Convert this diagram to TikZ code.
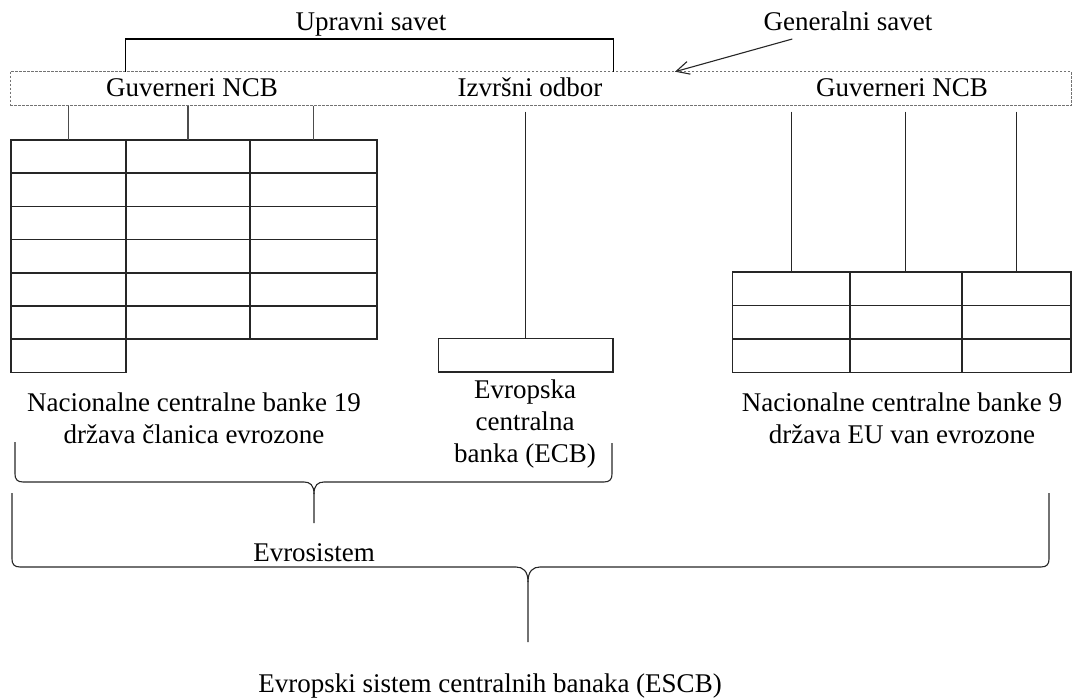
\documentclass[tikz,border=0pt]{standalone}
\usepackage{fontspec}
\setmainfont{Liberation Serif}
\usetikzlibrary{positioning, arrows.meta}

\begin{document}
\begin{tikzpicture}[
    x=1pt, y=-1pt,
    every node/.style={inner sep=0pt, outer sep=0pt},
    txt/.style={font=\fontsize{27}{32}\selectfont, align=center, anchor=base},
    barframe/.style={draw=black!55, line width=0.9pt, dash pattern=on 2.5pt off 1.5pt},
    cell/.style={draw=black!85, line width=1.6pt, minimum height=33.2pt},
    bracket/.style={draw=black, line width=1.5pt},
    link/.style={draw=black!70, line width=1.3pt},
    thinlink/.style={draw=black!85, line width=1pt},
    curly/.style={draw=black!85, line width=1.1pt},
    pointer/.style={-{Straight Barb[length=13pt,width=13pt]}, draw=black!85, line width=1.1pt}
]
\useasboundingbox (0,0) rectangle (1072,697);

\node[barframe, minimum width=1061pt, minimum height=34pt] (gs) at (540.5,88.7) {};
\node[txt] (gvl) at (192,96.7) {Guverneri NCB};
\node[txt] (io) at (530,96.7) {Izvršni odbor};
\node[txt] (gvr) at (902,96.7) {Guverneri NCB};

\node[txt] (us) at (371,30.7) {Upravni savet};
\coordinate (usL) at (125.7,39);
\coordinate (usR) at (613.3,39);
\draw[bracket] (usL |- gs.north) -- (usL) -- (usR) -- (usR |- gs.north);

\node[txt] (gen) at (848,30.7) {Generalni savet};
\coordinate (genfoot) at (792.3,39);
\coordinate (gstip) at (675,71.7);
\draw[pointer] (genfoot) -- (gstip);

\foreach \r in {0,...,5}{
  \foreach \c/\x/\w in {0/68.2/115, 1/187.9/124.3, 2/313.4/126.7}{
    \node[cell, minimum width=\w pt] (L\r\c) at (\x,{156.6+33.2*\r}) {};
  }
}
\node[cell, minimum width=115pt] (L60) at (68.2,355.8) {};

\foreach \r in {0,1,2}{
  \foreach \c/\x/\w in {0/791.2/117.7, 1/905.9/111.7, 2/1016.4/109.3}{
    \node[cell, minimum width=\w pt, minimum height=33.4pt] (R\r\c) at (\x,{288.9+33.4*\r}) {};
  }
}

\node[cell, minimum width=174.4pt, minimum height=33.4pt] (ecb) at (525.5,355) {};

\foreach \c in {0,1,2}{
  \draw[link] (gs.south -| L0\c.north) -- (L0\c.north);
  \draw[thinlink] ([yshift=-6pt]gs.south -| R0\c.north) -- (R0\c.north);
}
\draw[thinlink] ([yshift=-6pt]gs.south -| ecb.north) -- (ecb.north);

\node[txt] (ncb19) at (194,443.3) {Nacionalne centralne banke 19\\država članica evrozone};
\node[txt] (ecbtxt) at (525,462) {Evropska\\centralna\\banka (ECB)};
\node[txt] (ncb9) at (902,443.3) {Nacionalne centralne banke 9\\država EU van evrozone};

\draw[curly] (15,442) -- (15,474) .. controls (15,479) and (17,482) .. (23,482) -- (304,482)
  .. controls (310,482) and (314,485) .. (314,494) -- (314,523);
\draw[curly] (314,494) .. controls (314,485) and (318,482) .. (324,482) -- (604,482)
  .. controls (610,482) and (612,479) .. (612,474) -- (612,443);
\node[txt] (evs) at (314,561) {Evrosistem};

\draw[curly] (12,493) -- (12,559) .. controls (12,564) and (14,567) .. (20,567) -- (516,567)
  .. controls (523,567) and (528,571) .. (528,582) -- (528,642);
\draw[curly] (528,582) .. controls (528,571) and (533,567) .. (540,567) -- (1041,567)
  .. controls (1047,567) and (1049,564) .. (1049,559) -- (1049,493);
\node[txt] (escb) at (490,692) {Evropski sistem centralnih banaka (ESCB)};
\end{tikzpicture}
\end{document}
